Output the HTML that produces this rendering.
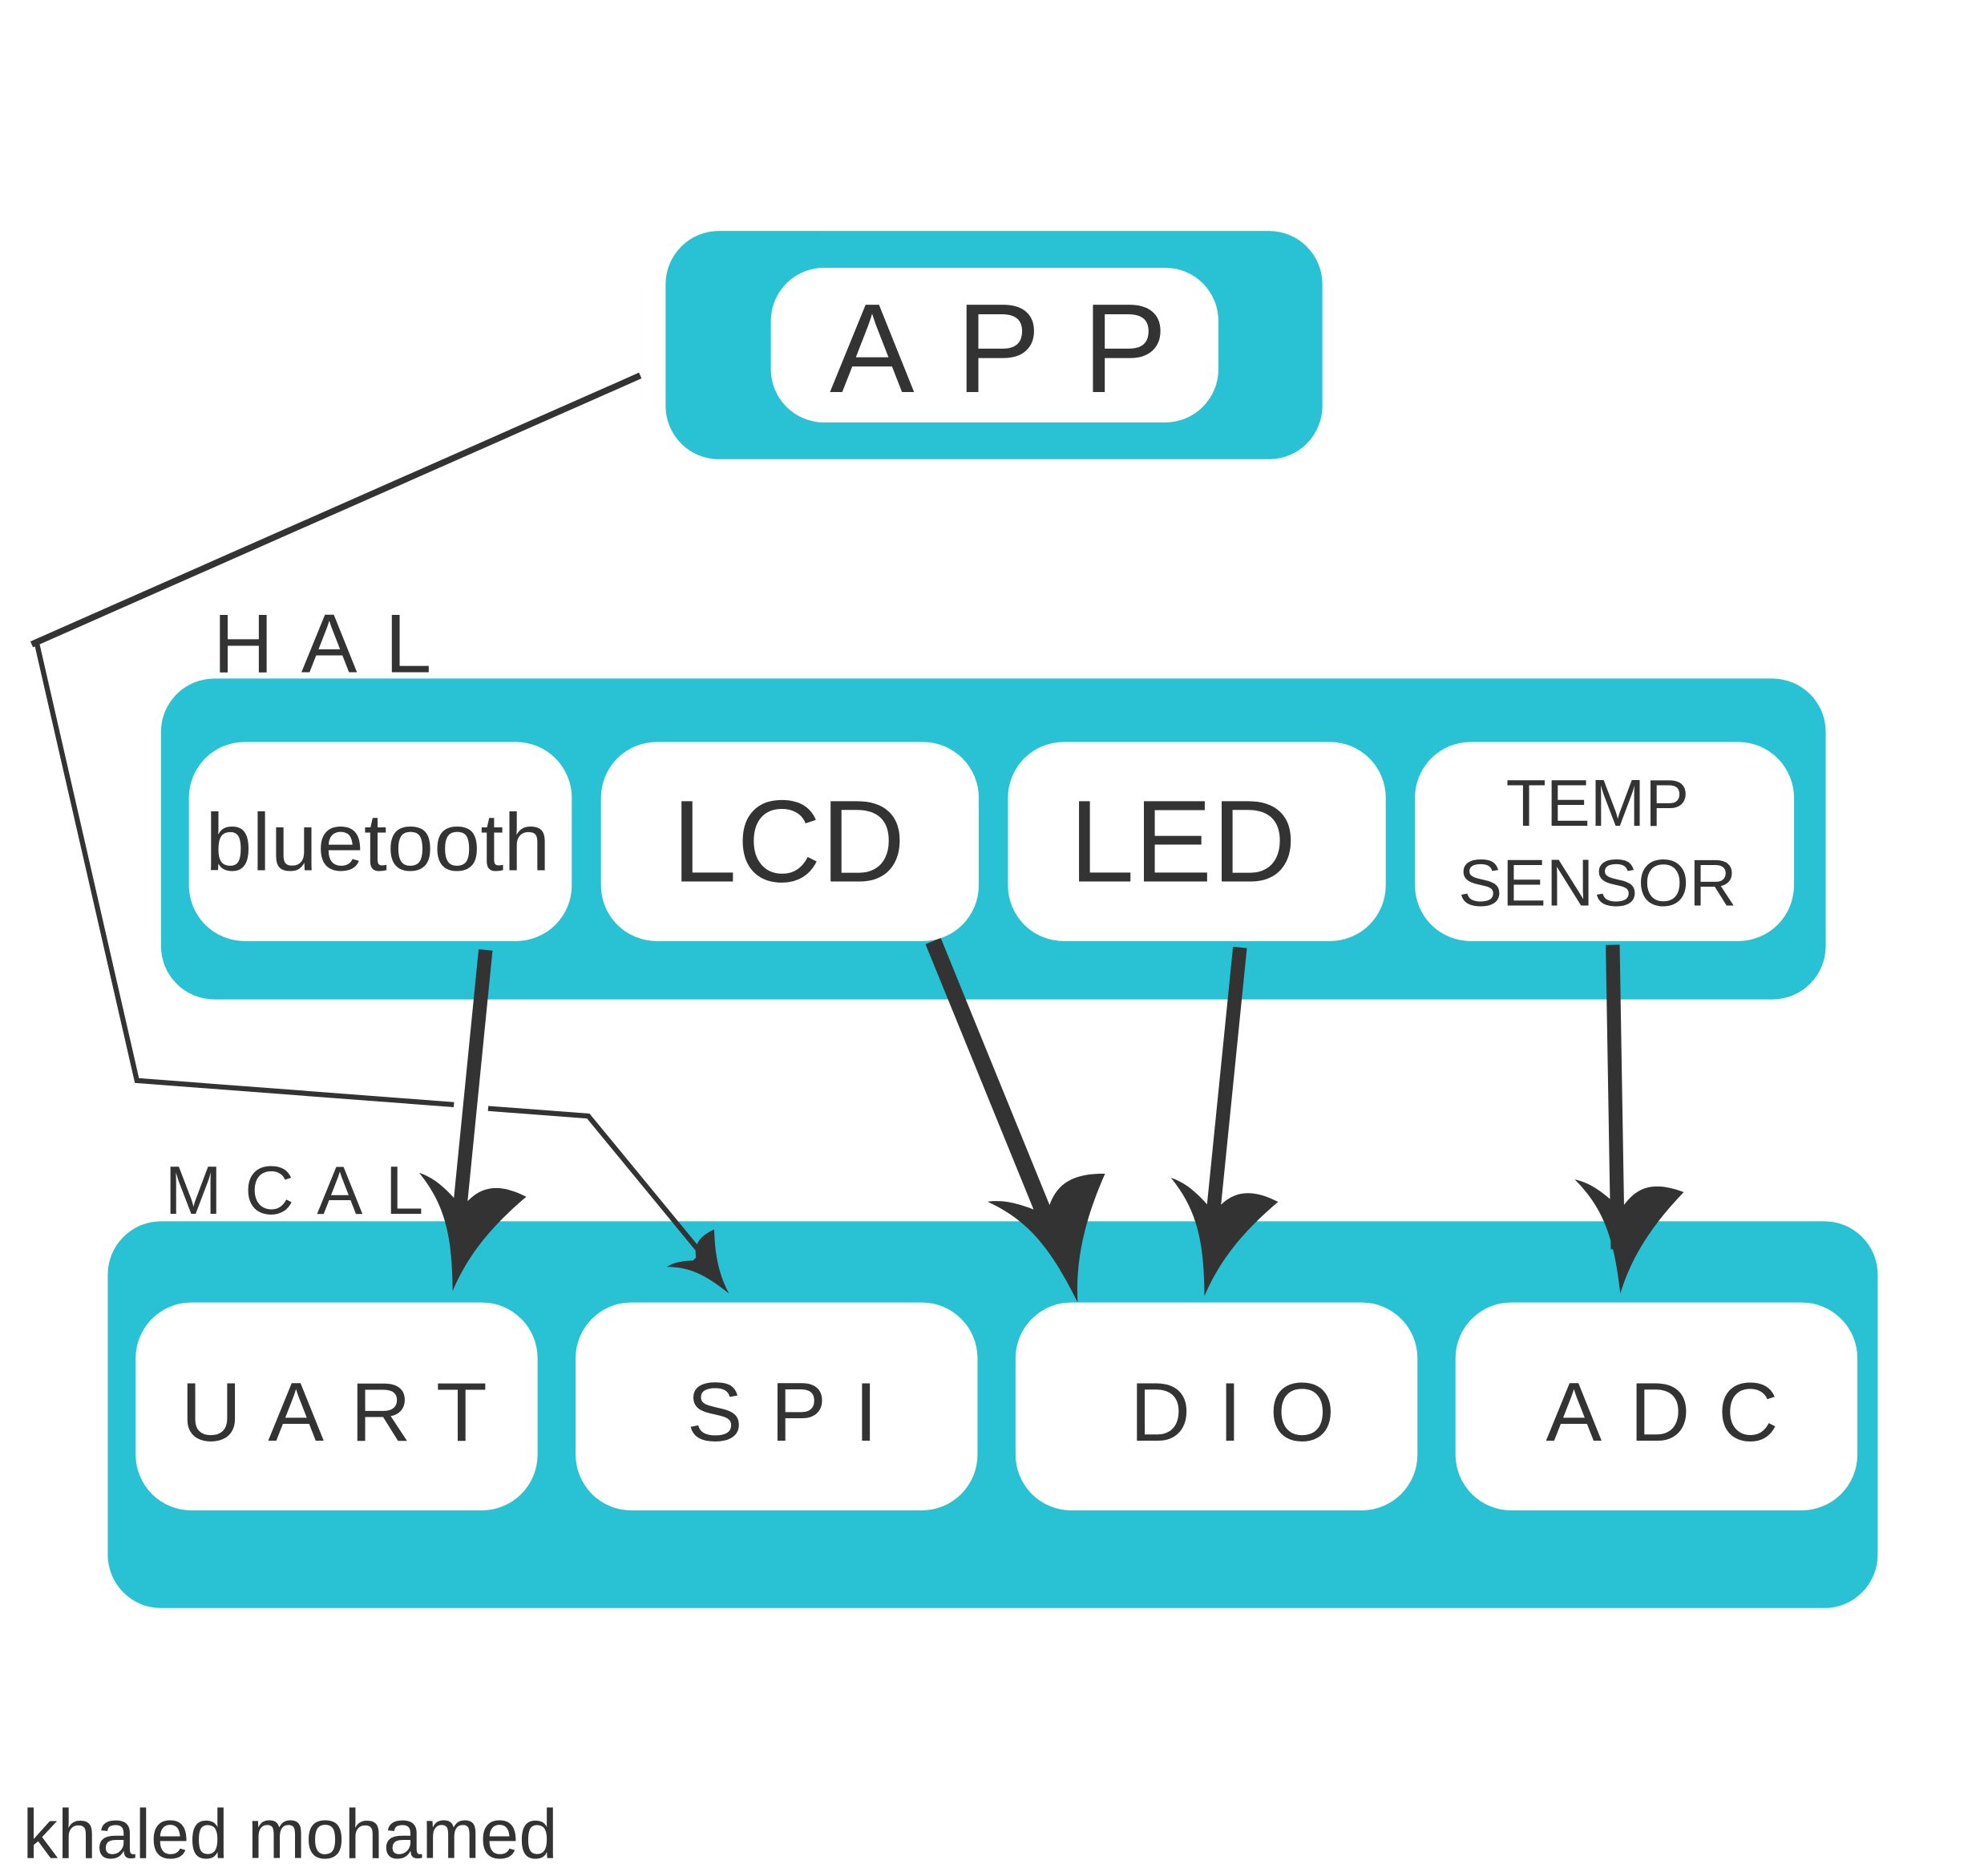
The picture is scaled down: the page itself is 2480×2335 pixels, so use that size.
<!DOCTYPE html>
<html><head><meta charset="utf-8"><style>
html,body{margin:0;padding:0;background:#fff;}
svg{display:block;}
text{font-family:"Liberation Sans",sans-serif;fill:#333;}
</style></head><body>
<svg width="2480" height="2335" viewBox="0 0 1568 1476" xmlns="http://www.w3.org/2000/svg">
<defs>
<path id="ah" d="M0,0 C-5,-45 -14,-68 -36,-90 C-22,-87 -12,-78 -3,-70 L3,-70 C12,-82 24,-90 50,-80 C26,-55 9,-30 0,0 Z" fill="#333"/>
</defs>
<!-- APP -->
<rect x="525" y="182" width="518" height="180" rx="42" fill="#29c1d4"/>
<rect x="608" y="211" width="353" height="122" rx="42" fill="#fff"/>
<text x="804" y="309" font-size="100" text-anchor="middle" letter-spacing="33">APP</text>
<!-- HAL -->
<text x="168" y="530" font-size="66" letter-spacing="22">HAL</text>
<rect x="127" y="535" width="1313" height="253" rx="42" fill="#29c1d4"/>
<rect x="149" y="585" width="302" height="157" rx="44" fill="#fff"/>
<rect x="474" y="585" width="298" height="157" rx="44" fill="#fff"/>
<rect x="795" y="585" width="298" height="157" rx="44" fill="#fff"/>
<rect x="1116" y="585" width="299" height="157" rx="44" fill="#fff"/>
<text x="298" y="686" font-size="64" text-anchor="middle" textLength="272" lengthAdjust="spacingAndGlyphs">bluetooth</text>
<text x="622" y="695" font-size="92" text-anchor="middle">LCD</text>
<text x="933" y="695" font-size="92" text-anchor="middle">LED</text>
<text x="1260" y="651" font-size="52" text-anchor="middle">TEMP</text>
<text x="1260" y="714" font-size="52" text-anchor="middle">SENSOR</text>
<!-- MCAL -->
<text x="130" y="957" font-size="54" letter-spacing="18">MCAL</text>
<rect x="85" y="963" width="1396" height="305" rx="42" fill="#29c1d4"/>
<rect x="107" y="1027" width="317" height="164" rx="44" fill="#fff"/>
<rect x="454" y="1027" width="317" height="164" rx="44" fill="#fff"/>
<rect x="801" y="1027" width="317" height="164" rx="44" fill="#fff"/>
<rect x="1148" y="1027" width="317" height="164" rx="44" fill="#fff"/>
<text x="274" y="1136" font-size="66" text-anchor="middle" letter-spacing="21">UART</text>
<text x="628" y="1136" font-size="66" text-anchor="middle" letter-spacing="22">SPI</text>
<text x="983" y="1136" font-size="66" text-anchor="middle" letter-spacing="22">DIO</text>
<text x="1322" y="1136" font-size="66" text-anchor="middle" letter-spacing="22">ADC</text>
<!-- connector lines -->
<polyline points="505,296 25,508" fill="none" stroke="#333" stroke-width="5"/>
<polyline points="29,507 108,852 358,871" fill="none" stroke="#333" stroke-width="4"/>
<polyline points="385,874 464,880 552,987" fill="none" stroke="#333" stroke-width="4"/>
<g transform="translate(575,1020) rotate(-45) scale(0.55)"><use href="#ah"/></g>
<!-- arrows -->
<line x1="383" y1="749" x2="360" y2="980" stroke="#333" stroke-width="11"/>
<g transform="translate(357,1018) rotate(6)"><use href="#ah"/></g>
<line x1="736" y1="742" x2="835" y2="985" stroke="#333" stroke-width="13"/>
<g transform="translate(850,1027) rotate(-20) scale(1.1)"><use href="#ah"/></g>
<line x1="978" y1="747" x2="954" y2="985" stroke="#333" stroke-width="11"/>
<g transform="translate(950,1022) rotate(6)"><use href="#ah"/></g>
<line x1="1272" y1="745" x2="1276" y2="985" stroke="#333" stroke-width="11"/>
<g transform="translate(1278,1020) rotate(0)"><use href="#ah"/></g>
<text x="18" y="1465" font-size="55">khaled mohamed</text>
</svg>
</body></html>
